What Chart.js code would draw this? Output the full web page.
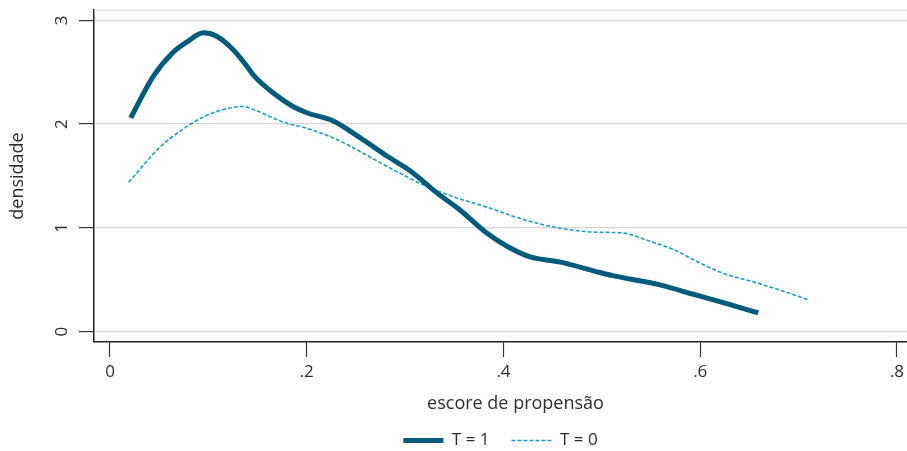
<!DOCTYPE html>
<html>
<head>
<meta charset="utf-8">
<script src="https://cdn.jsdelivr.net/npm/chart.js@4"></script>
<style>
  html, body { margin: 0; padding: 0; background: #ffffff; }
  #wrap { width: 907px; height: 451px; }
</style>
</head>
<body>
<div id="wrap"><canvas id="chart" width="907" height="451"></canvas></div>
<script>
// Kernel density of the propensity score, treated (T = 1) vs. untreated (T = 0)
const seriesLabels = ['T = 1', 'T = 0'];

const scoreT1 = [0.021, 0.044, 0.064, 0.078, 0.095, 0.108, 0.125, 0.139, 0.146, 0.166,
                 0.186, 0.200, 0.227, 0.254, 0.282, 0.308, 0.332, 0.356, 0.383, 0.404,
                 0.427, 0.458, 0.498, 0.511, 0.559, 0.593, 0.627, 0.659];
const densityT1 = [2.06, 2.46, 2.69, 2.79, 2.88, 2.85, 2.72, 2.56, 2.47, 2.30,
                   2.17, 2.11, 2.03, 1.87, 1.69, 1.53, 1.34, 1.17, 0.95, 0.82,
                   0.72, 0.67, 0.57, 0.54, 0.45, 0.36, 0.27, 0.18];

const scoreT0 = [0.019, 0.051, 0.071, 0.095, 0.115, 0.135, 0.146, 0.176, 0.200, 0.231,
                 0.261, 0.292, 0.322, 0.349, 0.383, 0.417, 0.450, 0.491, 0.522, 0.546,
                 0.573, 0.600, 0.624, 0.654, 0.681, 0.709];
const densityT0 = [1.44, 1.78, 1.93, 2.07, 2.14, 2.17, 2.14, 2.02, 1.96, 1.85,
                   1.70, 1.54, 1.40, 1.30, 1.20, 1.09, 1.01, 0.96, 0.95, 0.88,
                   0.79, 0.66, 0.56, 0.48, 0.40, 0.31];

const xTickValues = [0, 0.2, 0.4, 0.6, 0.8];
const xTickLabels = ['0', '.2', '.4', '.6', '.8'];
const yTickValues = [0, 1, 2, 3];
const yTickLabels = ['0', '1', '2', '3'];

const xTitle = 'escore de propensão';
const yTitle = 'densidade';

const FONT = '"Open Sans", "Noto Sans", sans-serif';
const TEXT = '#2e2e2e';

const toPoints = (xs, ys) => xs.map((x, i) => ({ x: x, y: ys[i] }));

// faint frame line along the top of the plot region
const topRule = {
  id: 'topRule',
  beforeDatasetsDraw(chart) {
    const { ctx, chartArea } = chart;
    ctx.save();
    ctx.strokeStyle = '#e6e6e6';
    ctx.lineWidth = 1.3;
    ctx.beginPath();
    ctx.moveTo(chartArea.left, chartArea.top + 0.5);
    ctx.lineTo(chartArea.right, chartArea.top + 0.5);
    ctx.stroke();
    ctx.restore();
  }
};

// x-axis caption, set slightly right of the plot centre
const xCaption = {
  id: 'xCaption',
  afterDraw(chart) {
    const { ctx, chartArea } = chart;
    ctx.save();
    ctx.font = '18px ' + FONT;
    ctx.fillStyle = TEXT;
    ctx.textAlign = 'center';
    ctx.textBaseline = 'middle';
    ctx.fillText(xTitle, (chartArea.left + chartArea.right) / 2 + 15, chartArea.bottom + 62);
    ctx.restore();
  }
};

// legend keys take the line width and dash pattern of their dataset
const legendKeys = (chart) => {
  const items = Chart.defaults.plugins.legend.labels.generateLabels(chart);
  items.forEach((item) => {
    const ds = chart.data.datasets[item.datasetIndex];
    item.lineWidth = ds.borderWidth;
    item.lineDash = ds.borderDash || [];
    item.strokeStyle = ds.borderColor;
    item.lineCap = 'butt';
  });
  return items;
};

new Chart(document.getElementById('chart'), {
  type: 'line',
  data: {
    datasets: [
      {
        label: seriesLabels[0],
        data: toPoints(scoreT1, densityT1),
        borderColor: '#005a7c',
        backgroundColor: '#005a7c',
        borderWidth: 5,
        borderJoinStyle: 'round',
        pointRadius: 0,
        cubicInterpolationMode: 'monotone',
        fill: false
      },
      {
        label: seriesLabels[1],
        data: toPoints(scoreT0, densityT0),
        borderColor: '#1b9bcc',
        backgroundColor: '#1b9bcc',
        borderWidth: 1.6,
        borderDash: [4, 2],
        pointRadius: 0,
        cubicInterpolationMode: 'monotone',
        fill: false
      }
    ]
  },
  plugins: [topRule, xCaption],
  options: {
    responsive: false,
    animation: false,
    devicePixelRatio: 1,
    layout: { padding: { top: 10, right: 0, left: 0, bottom: -8 } },
    plugins: {
      tooltip: { enabled: false },
      legend: {
        position: 'bottom',
        fullSize: false,
        labels: {
          usePointStyle: true,
          pointStyle: 'line',
          pointStyleWidth: 40,
          padding: 22,
          color: TEXT,
          font: { family: FONT, size: 17 },
          generateLabels: legendKeys
        }
      }
    },
    scales: {
      x: {
        type: 'linear',
        min: -0.01626,
        max: 0.81017,
        afterBuildTicks(scale) { scale.ticks = xTickValues.map(v => ({ value: v })); },
        afterFit(scale) {
          scale.height = 68;
          scale.paddingLeft = 0;
          scale.paddingRight = 0;
        },
        ticks: {
          autoSkip: false,
          maxRotation: 0,
          padding: 5,
          color: TEXT,
          font: { family: FONT, size: 17 },
          callback: (v) => xTickLabels[xTickValues.indexOf(v)]
        },
        grid: {
          drawOnChartArea: false,
          tickLength: 15,
          tickColor: '#333333',
          tickWidth: 1.2
        },
        border: { color: '#222222', width: 1.5 }
      },
      y: {
        type: 'linear',
        min: -0.1,
        max: 3.1,
        afterBuildTicks(scale) { scale.ticks = yTickValues.map(v => ({ value: v })); },
        afterFit(scale) {
          scale.width = 94;
          scale.paddingTop = 0;
          scale.paddingBottom = 0;
        },
        ticks: {
          autoSkip: false,
          minRotation: 90,
          maxRotation: 90,
          crossAlign: 'center',
          padding: 12,
          color: TEXT,
          font: { family: FONT, size: 17 },
          callback: (v) => yTickLabels[yTickValues.indexOf(v)]
        },
        grid: {
          color: '#d4d4d4',
          lineWidth: 1.3,
          tickLength: 15,
          tickColor: '#333333',
          tickWidth: 1.2
        },
        border: { color: '#222222', width: 1.5 },
        title: {
          display: true,
          text: yTitle,
          color: TEXT,
          font: { family: FONT, size: 18 },
          padding: { top: 7, bottom: 0 }
        }
      }
    }
  }
});
</script>
</body>
</html>
